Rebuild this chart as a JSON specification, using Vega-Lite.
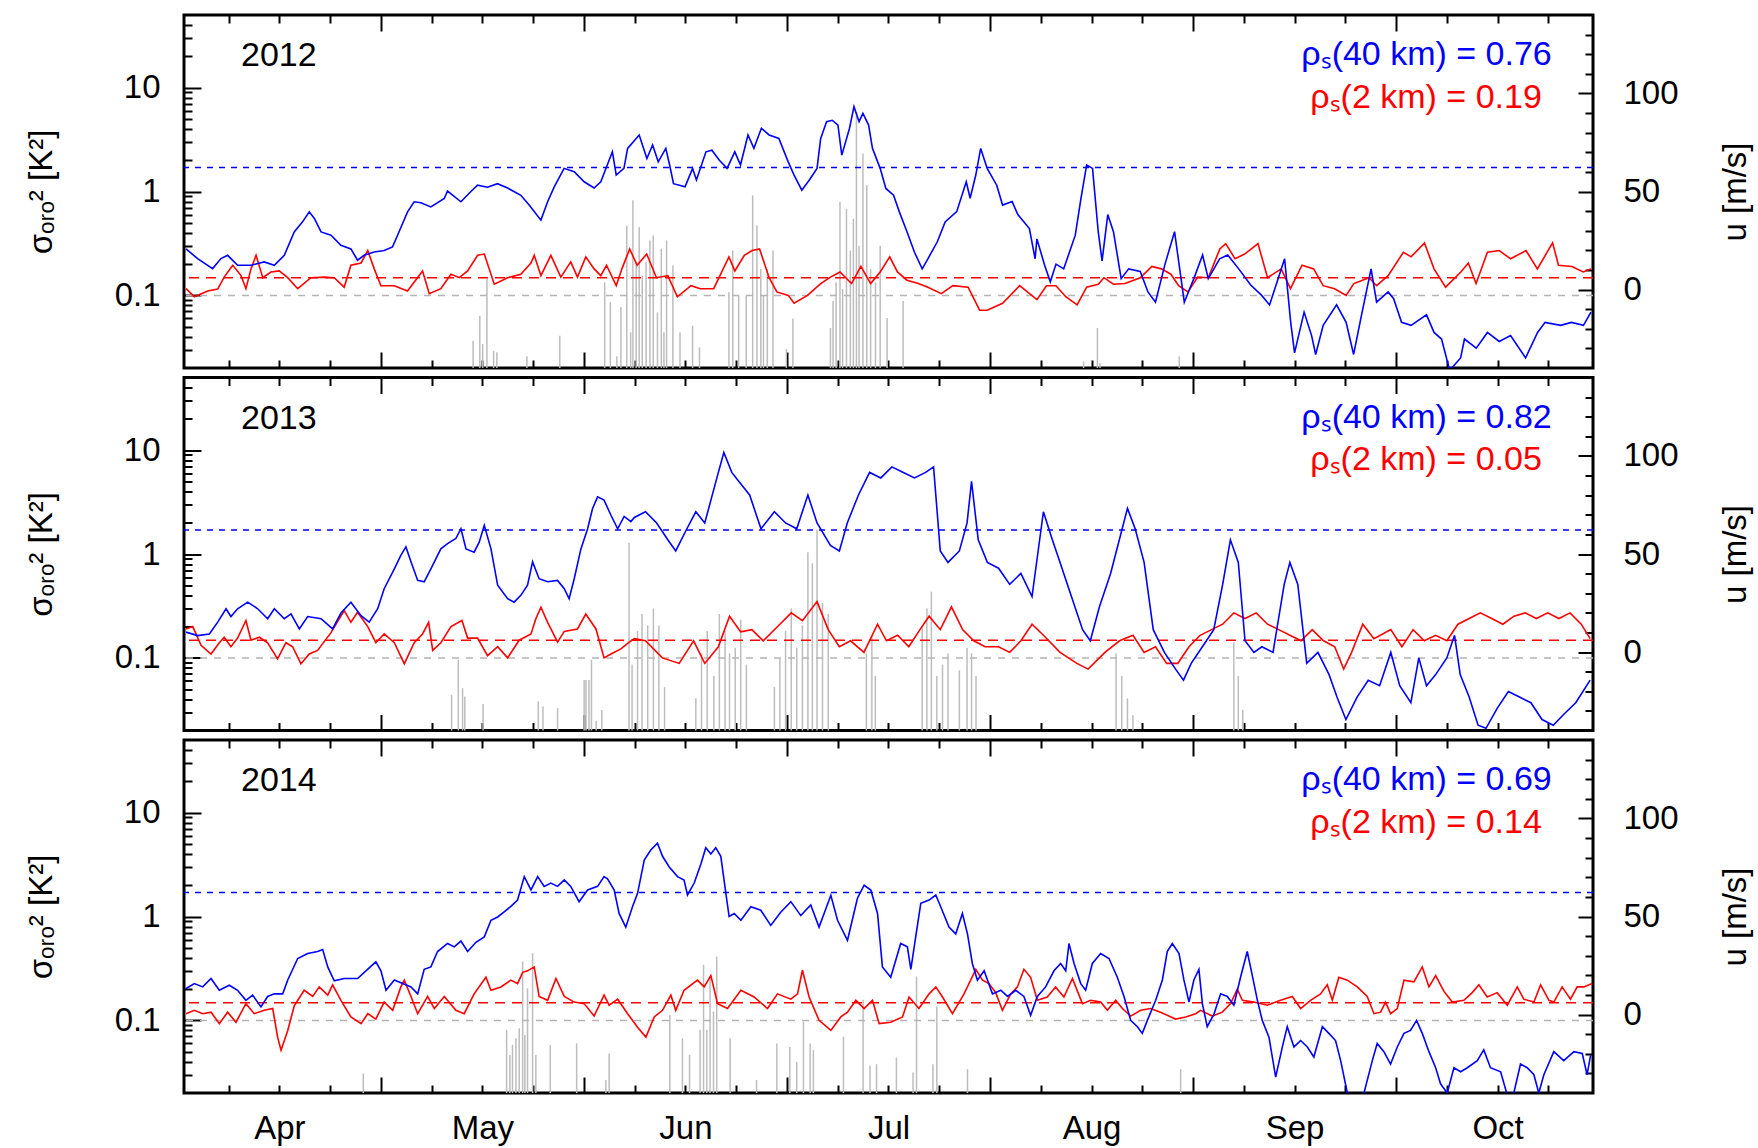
{
  "$schema": "https://vega.github.io/schema/vega-lite/v6.json",
  "background": "white",
  "padding": {"left": 23, "top": 12, "right": 2, "bottom": 0},
  "config": {
    "view": {"stroke": "black", "strokeWidth": 3},
    "font": "Liberation Sans",
    "axis": {"domain": false, "grid": false, "labelFont": "Liberation Sans", "labelFontSize": 33, "labelColor": "black", "titleFont": "Liberation Sans", "titleFontSize": 33, "titleFontWeight": "normal", "titleColor": "black", "tickColor": "black", "tickWidth": 2, "labelOverlap": false, "labelFlush": false, "labelBound": false}
  },
  "datasets": {
    "b2012": [{"t":4.04,"v":0.28},{"t":4.097,"v":0.226},{"t":4.171,"v":0.181},{"t":4.212,"v":0.226},{"t":4.245,"v":0.243},{"t":4.294,"v":0.195},{"t":4.36,"v":0.195},{"t":4.425,"v":0.21},{"t":4.475,"v":0.195},{"t":4.524,"v":0.243},{"t":4.573,"v":0.408},{"t":4.614,"v":0.51},{"t":4.647,"v":0.637},{"t":4.672,"v":0.55},{"t":4.705,"v":0.408},{"t":4.754,"v":0.379},{"t":4.803,"v":0.304},{"t":4.852,"v":0.28},{"t":4.885,"v":0.218},{"t":4.917,"v":0.243},{"t":4.967,"v":0.262},{"t":5.016,"v":0.27},{"t":5.057,"v":0.293},{"t":5.082,"v":0.379},{"t":5.131,"v":0.637},{"t":5.164,"v":0.796},{"t":5.197,"v":0.78},{"t":5.246,"v":0.711},{"t":5.312,"v":0.857},{"t":5.328,"v":1.01},{"t":5.394,"v":0.796},{"t":5.443,"v":1.0},{"t":5.476,"v":1.15},{"t":5.525,"v":1.1},{"t":5.574,"v":1.19},{"t":5.624,"v":1.08},{"t":5.689,"v":0.92},{"t":5.73,"v":0.74},{"t":5.788,"v":0.53},{"t":5.821,"v":0.796},{"t":5.853,"v":1.1},{"t":5.902,"v":1.67},{"t":5.952,"v":1.55},{"t":6.001,"v":1.24},{"t":6.05,"v":1.08},{"t":6.083,"v":1.24},{"t":6.121,"v":1.93},{"t":6.14,"v":2.41},{"t":6.159,"v":1.44},{"t":6.197,"v":1.67},{"t":6.215,"v":2.6},{"t":6.272,"v":3.5},{"t":6.31,"v":2.08},{"t":6.338,"v":2.8},{"t":6.366,"v":1.93},{"t":6.403,"v":2.6},{"t":6.422,"v":1.8},{"t":6.441,"v":1.19},{"t":6.498,"v":1.11},{"t":6.535,"v":1.67},{"t":6.554,"v":1.29},{"t":6.601,"v":2.41},{"t":6.63,"v":2.5},{"t":6.667,"v":2.0},{"t":6.705,"v":1.67},{"t":6.743,"v":2.41},{"t":6.771,"v":1.8},{"t":6.808,"v":3.5},{"t":6.837,"v":2.6},{"t":6.874,"v":4.06},{"t":6.912,"v":3.5},{"t":6.96,"v":3.24},{"t":7.006,"v":1.93},{"t":7.035,"v":1.44},{"t":7.073,"v":1.03},{"t":7.11,"v":1.29},{"t":7.148,"v":1.67},{"t":7.166,"v":3.24},{"t":7.195,"v":4.7},{"t":7.223,"v":4.85},{"t":7.251,"v":4.36},{"t":7.27,"v":2.24},{"t":7.308,"v":4.06},{"t":7.33,"v":6.56},{"t":7.355,"v":4.7},{"t":7.374,"v":5.65},{"t":7.402,"v":4.36},{"t":7.421,"v":2.6},{"t":7.459,"v":1.67},{"t":7.487,"v":1.07},{"t":7.525,"v":0.92},{"t":7.553,"v":0.64},{"t":7.591,"v":0.41},{"t":7.628,"v":0.26},{"t":7.666,"v":0.18},{"t":7.694,"v":0.225},{"t":7.741,"v":0.33},{"t":7.779,"v":0.51},{"t":7.836,"v":0.64},{"t":7.883,"v":1.24},{"t":7.902,"v":0.86},{"t":7.93,"v":1.44},{"t":7.954,"v":2.6},{"t":7.986,"v":1.67},{"t":8.033,"v":1.15},{"t":8.062,"v":0.74},{"t":8.109,"v":0.8},{"t":8.137,"v":0.6},{"t":8.194,"v":0.44},{"t":8.222,"v":0.225},{"t":8.231,"v":0.35},{"t":8.269,"v":0.195},{"t":8.297,"v":0.135},{"t":8.325,"v":0.2},{"t":8.363,"v":0.18},{"t":8.42,"v":0.38},{"t":8.448,"v":0.86},{"t":8.476,"v":1.8},{"t":8.505,"v":1.67},{"t":8.533,"v":0.41},{"t":8.552,"v":0.215},{"t":8.58,"v":0.6},{"t":8.608,"v":0.41},{"t":8.646,"v":0.145},{"t":8.683,"v":0.18},{"t":8.74,"v":0.17},{"t":8.778,"v":0.108},{"t":8.815,"v":0.086},{"t":8.862,"v":0.2},{"t":8.909,"v":0.41},{"t":8.957,"v":0.086},{"t":9.004,"v":0.145},{"t":9.047,"v":0.245},{"t":9.075,"v":0.145},{"t":9.131,"v":0.225},{"t":9.171,"v":0.245},{"t":9.225,"v":0.18},{"t":9.284,"v":0.126},{"t":9.338,"v":0.1},{"t":9.377,"v":0.081},{"t":9.451,"v":0.225},{"t":9.481,"v":0.055},{"t":9.5,"v":0.028},{"t":9.547,"v":0.069},{"t":9.584,"v":0.041},{"t":9.604,"v":0.027},{"t":9.641,"v":0.0515},{"t":9.707,"v":0.081},{"t":9.754,"v":0.055},{"t":9.791,"v":0.027},{"t":9.83,"v":0.065},{"t":9.877,"v":0.18},{"t":9.904,"v":0.086},{"t":9.961,"v":0.108},{"t":9.988,"v":0.093},{"t":10.027,"v":0.055},{"t":10.074,"v":0.0515},{"t":10.15,"v":0.065},{"t":10.187,"v":0.044},{"t":10.224,"v":0.038},{"t":10.264,"v":0.019},{"t":10.318,"v":0.025},{"t":10.337,"v":0.038},{"t":10.395,"v":0.031},{"t":10.45,"v":0.044},{"t":10.508,"v":0.036},{"t":10.564,"v":0.041},{"t":10.638,"v":0.025},{"t":10.697,"v":0.044},{"t":10.734,"v":0.055},{"t":10.81,"v":0.0515},{"t":10.864,"v":0.055},{"t":10.923,"v":0.0515},{"t":10.96,"v":0.069}],
    "r2012": [{"t":4.04,"v":0.116},{"t":4.081,"v":0.097},{"t":4.147,"v":0.11},{"t":4.196,"v":0.115},{"t":4.228,"v":0.15},{"t":4.27,"v":0.195},{"t":4.311,"v":0.155},{"t":4.335,"v":0.116},{"t":4.36,"v":0.18},{"t":4.385,"v":0.243},{"t":4.418,"v":0.148},{"t":4.458,"v":0.168},{"t":4.499,"v":0.172},{"t":4.541,"v":0.148},{"t":4.59,"v":0.116},{"t":4.655,"v":0.148},{"t":4.721,"v":0.15},{"t":4.77,"v":0.148},{"t":4.819,"v":0.12},{"t":4.852,"v":0.195},{"t":4.902,"v":0.205},{"t":4.935,"v":0.27},{"t":4.967,"v":0.18},{"t":5.0,"v":0.124},{"t":5.066,"v":0.124},{"t":5.131,"v":0.11},{"t":5.205,"v":0.172},{"t":5.238,"v":0.104},{"t":5.295,"v":0.116},{"t":5.345,"v":0.16},{"t":5.386,"v":0.148},{"t":5.427,"v":0.172},{"t":5.476,"v":0.243},{"t":5.509,"v":0.25},{"t":5.558,"v":0.128},{"t":5.624,"v":0.148},{"t":5.689,"v":0.16},{"t":5.739,"v":0.205},{"t":5.755,"v":0.243},{"t":5.788,"v":0.155},{"t":5.837,"v":0.243},{"t":5.886,"v":0.15},{"t":5.935,"v":0.21},{"t":5.968,"v":0.15},{"t":6.009,"v":0.235},{"t":6.05,"v":0.18},{"t":6.083,"v":0.155},{"t":6.111,"v":0.195},{"t":6.159,"v":0.124},{"t":6.187,"v":0.18},{"t":6.225,"v":0.28},{"t":6.262,"v":0.195},{"t":6.309,"v":0.25},{"t":6.357,"v":0.148},{"t":6.413,"v":0.155},{"t":6.46,"v":0.097},{"t":6.527,"v":0.124},{"t":6.573,"v":0.116},{"t":6.639,"v":0.116},{"t":6.714,"v":0.235},{"t":6.743,"v":0.172},{"t":6.79,"v":0.243},{"t":6.828,"v":0.27},{"t":6.865,"v":0.28},{"t":6.912,"v":0.148},{"t":6.95,"v":0.108},{"t":7.006,"v":0.1},{"t":7.035,"v":0.084},{"t":7.101,"v":0.1},{"t":7.166,"v":0.13},{"t":7.214,"v":0.15},{"t":7.261,"v":0.168},{"t":7.318,"v":0.13},{"t":7.364,"v":0.19},{"t":7.412,"v":0.13},{"t":7.459,"v":0.168},{"t":7.506,"v":0.235},{"t":7.544,"v":0.168},{"t":7.591,"v":0.14},{"t":7.647,"v":0.13},{"t":7.694,"v":0.12},{"t":7.76,"v":0.104},{"t":7.817,"v":0.124},{"t":7.892,"v":0.12},{"t":7.949,"v":0.072},{"t":7.986,"v":0.072},{"t":8.062,"v":0.084},{"t":8.146,"v":0.124},{"t":8.231,"v":0.091},{"t":8.278,"v":0.124},{"t":8.325,"v":0.124},{"t":8.373,"v":0.097},{"t":8.429,"v":0.081},{"t":8.476,"v":0.12},{"t":8.533,"v":0.128},{"t":8.561,"v":0.148},{"t":8.608,"v":0.128},{"t":8.665,"v":0.13},{"t":8.74,"v":0.148},{"t":8.797,"v":0.19},{"t":8.844,"v":0.18},{"t":8.891,"v":0.16},{"t":8.929,"v":0.124},{"t":8.975,"v":0.108},{"t":9.023,"v":0.15},{"t":9.075,"v":0.148},{"t":9.132,"v":0.28},{"t":9.161,"v":0.315},{"t":9.207,"v":0.225},{"t":9.254,"v":0.25},{"t":9.32,"v":0.315},{"t":9.367,"v":0.148},{"t":9.434,"v":0.18},{"t":9.48,"v":0.116},{"t":9.537,"v":0.195},{"t":9.594,"v":0.18},{"t":9.641,"v":0.124},{"t":9.697,"v":0.116},{"t":9.754,"v":0.1},{"t":9.792,"v":0.13},{"t":9.867,"v":0.148},{"t":9.904,"v":0.124},{"t":9.961,"v":0.155},{"t":10.036,"v":0.26},{"t":10.074,"v":0.235},{"t":10.14,"v":0.32},{"t":10.187,"v":0.18},{"t":10.244,"v":0.12},{"t":10.319,"v":0.168},{"t":10.356,"v":0.205},{"t":10.394,"v":0.13},{"t":10.45,"v":0.26},{"t":10.508,"v":0.27},{"t":10.564,"v":0.225},{"t":10.64,"v":0.27},{"t":10.696,"v":0.18},{"t":10.771,"v":0.32},{"t":10.8,"v":0.195},{"t":10.866,"v":0.19},{"t":10.922,"v":0.168},{"t":10.96,"v":0.18}],
    "u2012": [{"t":5.454,"u":-26.1},{"t":5.487,"u":-13.3},{"t":5.501,"u":-27.8},{"t":5.522,"u":5.4},{"t":5.555,"u":-31.2},{"t":5.571,"u":-32},{"t":5.719,"u":-34},{"t":5.881,"u":-23.5},{"t":6.102,"u":3.7},{"t":6.13,"u":-6.5},{"t":6.162,"u":-34},{"t":6.182,"u":-8.9},{"t":6.211,"u":32.7},{"t":6.23,"u":-21.8},{"t":6.241,"u":45.5},{"t":6.257,"u":14},{"t":6.272,"u":31.9},{"t":6.287,"u":7.2},{"t":6.306,"u":14},{"t":6.325,"u":25},{"t":6.341,"u":27.6},{"t":6.362,"u":-11.6},{"t":6.381,"u":20.8},{"t":6.394,"u":-21.8},{"t":6.407,"u":25},{"t":6.438,"u":12.3},{"t":6.473,"u":-21.8},{"t":6.535,"u":-18.4},{"t":6.569,"u":-29.5},{"t":6.714,"u":-1.4},{"t":6.733,"u":19.9},{"t":6.762,"u":-3.1},{"t":6.799,"u":-3.1},{"t":6.831,"u":48},{"t":6.852,"u":32.7},{"t":6.871,"u":10.5},{"t":6.884,"u":-3.1},{"t":6.903,"u":10.5},{"t":6.931,"u":19.9},{"t":6.997,"u":-30.4},{"t":7.029,"u":-14.7},{"t":7.214,"u":-19.6},{"t":7.227,"u":-5.8},{"t":7.242,"u":3.7},{"t":7.261,"u":44.6},{"t":7.274,"u":0.3},{"t":7.293,"u":41.2},{"t":7.312,"u":19.9},{"t":7.327,"u":36.1},{"t":7.342,"u":90.6},{"t":7.355,"u":22.4},{"t":7.374,"u":69.3},{"t":7.393,"u":53.2},{"t":7.412,"u":10.5},{"t":7.436,"u":3.7},{"t":7.459,"u":22.4},{"t":7.493,"u":-14.5},{"t":7.572,"u":-5.8},{"t":8.461,"u":-36.7},{"t":8.529,"u":-19.6},{"t":8.542,"u":-37.5},{"t":8.932,"u":-34}],
    "b2013": [{"t":4.04,"v":0.177},{"t":4.097,"v":0.164},{"t":4.155,"v":0.17},{"t":4.196,"v":0.221},{"t":4.237,"v":0.297},{"t":4.261,"v":0.25},{"t":4.294,"v":0.297},{"t":4.344,"v":0.344},{"t":4.393,"v":0.297},{"t":4.442,"v":0.238},{"t":4.475,"v":0.297},{"t":4.524,"v":0.238},{"t":4.557,"v":0.265},{"t":4.598,"v":0.19},{"t":4.639,"v":0.25},{"t":4.705,"v":0.238},{"t":4.762,"v":0.19},{"t":4.803,"v":0.27},{"t":4.852,"v":0.344},{"t":4.902,"v":0.255},{"t":4.942,"v":0.221},{"t":4.984,"v":0.297},{"t":5.016,"v":0.463},{"t":5.066,"v":0.72},{"t":5.098,"v":0.97},{"t":5.123,"v":1.17},{"t":5.148,"v":0.84},{"t":5.181,"v":0.557},{"t":5.213,"v":0.54},{"t":5.246,"v":0.72},{"t":5.295,"v":1.12},{"t":5.328,"v":1.26},{"t":5.369,"v":1.41},{"t":5.394,"v":1.75},{"t":5.419,"v":1.12},{"t":5.459,"v":1.04},{"t":5.484,"v":1.3},{"t":5.509,"v":1.89},{"t":5.542,"v":1.12},{"t":5.575,"v":0.5},{"t":5.624,"v":0.371},{"t":5.656,"v":0.344},{"t":5.689,"v":0.4},{"t":5.722,"v":0.5},{"t":5.747,"v":0.84},{"t":5.779,"v":0.578},{"t":5.821,"v":0.54},{"t":5.87,"v":0.557},{"t":5.903,"v":0.463},{"t":5.927,"v":0.371},{"t":5.952,"v":0.578},{"t":5.985,"v":1.12},{"t":6.018,"v":1.75},{"t":6.042,"v":2.73},{"t":6.067,"v":3.55},{"t":6.099,"v":3.3},{"t":6.133,"v":2.36},{"t":6.166,"v":1.75},{"t":6.198,"v":2.3},{"t":6.231,"v":2.05},{"t":6.248,"v":2.25},{"t":6.303,"v":2.55},{"t":6.358,"v":1.99},{"t":6.413,"v":1.37},{"t":6.452,"v":1.07},{"t":6.507,"v":1.75},{"t":6.551,"v":2.55},{"t":6.595,"v":1.99},{"t":6.662,"v":6.1},{"t":6.689,"v":9.5},{"t":6.728,"v":6.1},{"t":6.772,"v":4.75},{"t":6.816,"v":3.7},{"t":6.872,"v":1.75},{"t":6.938,"v":2.55},{"t":6.993,"v":1.99},{"t":7.048,"v":1.75},{"t":7.103,"v":3.7},{"t":7.148,"v":1.99},{"t":7.214,"v":1.21},{"t":7.258,"v":1.07},{"t":7.297,"v":1.99},{"t":7.352,"v":3.7},{"t":7.407,"v":6.1},{"t":7.462,"v":5.4},{"t":7.517,"v":6.9},{"t":7.573,"v":6.1},{"t":7.628,"v":5.4},{"t":7.683,"v":6.1},{"t":7.722,"v":6.9},{"t":7.755,"v":1.07},{"t":7.793,"v":0.83},{"t":7.849,"v":1.07},{"t":7.887,"v":1.99},{"t":7.909,"v":5.0},{"t":7.942,"v":1.37},{"t":7.987,"v":0.83},{"t":8.042,"v":0.73},{"t":8.097,"v":0.51},{"t":8.152,"v":0.65},{"t":8.207,"v":0.39},{"t":8.263,"v":2.55},{"t":8.307,"v":1.37},{"t":8.345,"v":0.83},{"t":8.401,"v":0.39},{"t":8.456,"v":0.187},{"t":8.494,"v":0.146},{"t":8.539,"v":0.31},{"t":8.594,"v":0.65},{"t":8.677,"v":2.75},{"t":8.715,"v":1.75},{"t":8.759,"v":0.83},{"t":8.804,"v":0.187},{"t":8.859,"v":0.113},{"t":8.914,"v":0.078},{"t":8.953,"v":0.061},{"t":8.991,"v":0.0885},{"t":9.046,"v":0.128},{"t":9.102,"v":0.187},{"t":9.146,"v":0.51},{"t":9.184,"v":1.37},{"t":9.223,"v":0.83},{"t":9.256,"v":0.146},{"t":9.3,"v":0.113},{"t":9.339,"v":0.128},{"t":9.394,"v":0.113},{"t":9.449,"v":0.51},{"t":9.477,"v":0.83},{"t":9.516,"v":0.51},{"t":9.56,"v":0.0885},{"t":9.615,"v":0.113},{"t":9.67,"v":0.069},{"t":9.709,"v":0.042},{"t":9.753,"v":0.0255},{"t":9.808,"v":0.042},{"t":9.863,"v":0.061},{"t":9.919,"v":0.054},{"t":9.974,"v":0.113},{"t":10.018,"v":0.054},{"t":10.073,"v":0.037},{"t":10.112,"v":0.1},{"t":10.15,"v":0.054},{"t":10.195,"v":0.069},{"t":10.25,"v":0.1},{"t":10.288,"v":0.165},{"t":10.316,"v":0.069},{"t":10.36,"v":0.042},{"t":10.404,"v":0.0225},{"t":10.443,"v":0.021},{"t":10.498,"v":0.0327},{"t":10.553,"v":0.0475},{"t":10.608,"v":0.042},{"t":10.664,"v":0.037},{"t":10.719,"v":0.0255},{"t":10.774,"v":0.0225},{"t":10.829,"v":0.029},{"t":10.885,"v":0.037},{"t":10.956,"v":0.061}],
    "r2013": [{"t":4.04,"v":0.19},{"t":4.073,"v":0.2},{"t":4.114,"v":0.132},{"t":4.163,"v":0.109},{"t":4.204,"v":0.14},{"t":4.228,"v":0.158},{"t":4.261,"v":0.128},{"t":4.294,"v":0.155},{"t":4.335,"v":0.229},{"t":4.36,"v":0.148},{"t":4.401,"v":0.158},{"t":4.442,"v":0.14},{"t":4.491,"v":0.098},{"t":4.532,"v":0.14},{"t":4.565,"v":0.128},{"t":4.606,"v":0.0875},{"t":4.647,"v":0.109},{"t":4.688,"v":0.118},{"t":4.754,"v":0.175},{"t":4.819,"v":0.286},{"t":4.852,"v":0.22},{"t":4.885,"v":0.275},{"t":4.935,"v":0.2},{"t":4.975,"v":0.14},{"t":5.016,"v":0.17},{"t":5.066,"v":0.14},{"t":5.115,"v":0.0875},{"t":5.164,"v":0.14},{"t":5.205,"v":0.17},{"t":5.235,"v":0.22},{"t":5.255,"v":0.118},{"t":5.295,"v":0.14},{"t":5.345,"v":0.2},{"t":5.399,"v":0.229},{"t":5.427,"v":0.155},{"t":5.476,"v":0.155},{"t":5.525,"v":0.105},{"t":5.575,"v":0.128},{"t":5.624,"v":0.1},{"t":5.681,"v":0.148},{"t":5.739,"v":0.17},{"t":5.763,"v":0.238},{"t":5.788,"v":0.308},{"t":5.821,"v":0.22},{"t":5.87,"v":0.142},{"t":5.903,"v":0.18},{"t":5.968,"v":0.19},{"t":6.009,"v":0.264},{"t":6.059,"v":0.19},{"t":6.099,"v":0.1},{"t":6.133,"v":0.109},{"t":6.182,"v":0.122},{"t":6.223,"v":0.142},{"t":6.248,"v":0.153},{"t":6.303,"v":0.146},{"t":6.386,"v":0.1},{"t":6.469,"v":0.0885},{"t":6.54,"v":0.146},{"t":6.595,"v":0.0885},{"t":6.662,"v":0.128},{"t":6.717,"v":0.252},{"t":6.772,"v":0.178},{"t":6.827,"v":0.187},{"t":6.883,"v":0.146},{"t":6.965,"v":0.211},{"t":7.021,"v":0.271},{"t":7.076,"v":0.228},{"t":7.148,"v":0.348},{"t":7.203,"v":0.187},{"t":7.258,"v":0.128},{"t":7.313,"v":0.146},{"t":7.379,"v":0.113},{"t":7.446,"v":0.211},{"t":7.49,"v":0.146},{"t":7.545,"v":0.165},{"t":7.6,"v":0.128},{"t":7.655,"v":0.187},{"t":7.7,"v":0.252},{"t":7.755,"v":0.187},{"t":7.81,"v":0.31},{"t":7.865,"v":0.187},{"t":7.92,"v":0.146},{"t":7.976,"v":0.128},{"t":8.042,"v":0.128},{"t":8.097,"v":0.113},{"t":8.152,"v":0.146},{"t":8.207,"v":0.211},{"t":8.263,"v":0.165},{"t":8.345,"v":0.113},{"t":8.428,"v":0.0885},{"t":8.483,"v":0.078},{"t":8.566,"v":0.113},{"t":8.638,"v":0.146},{"t":8.704,"v":0.165},{"t":8.759,"v":0.113},{"t":8.815,"v":0.128},{"t":8.87,"v":0.0885},{"t":8.925,"v":0.0885},{"t":8.98,"v":0.128},{"t":9.035,"v":0.165},{"t":9.091,"v":0.187},{"t":9.146,"v":0.211},{"t":9.201,"v":0.271},{"t":9.256,"v":0.239},{"t":9.311,"v":0.271},{"t":9.367,"v":0.211},{"t":9.422,"v":0.187},{"t":9.477,"v":0.165},{"t":9.532,"v":0.146},{"t":9.587,"v":0.187},{"t":9.643,"v":0.146},{"t":9.698,"v":0.128},{"t":9.742,"v":0.078},{"t":9.781,"v":0.113},{"t":9.836,"v":0.211},{"t":9.891,"v":0.153},{"t":9.974,"v":0.187},{"t":10.029,"v":0.128},{"t":10.084,"v":0.187},{"t":10.139,"v":0.146},{"t":10.195,"v":0.165},{"t":10.25,"v":0.146},{"t":10.305,"v":0.211},{"t":10.36,"v":0.239},{"t":10.415,"v":0.271},{"t":10.471,"v":0.239},{"t":10.526,"v":0.211},{"t":10.581,"v":0.252},{"t":10.636,"v":0.271},{"t":10.691,"v":0.239},{"t":10.747,"v":0.271},{"t":10.802,"v":0.239},{"t":10.857,"v":0.271},{"t":10.912,"v":0.211},{"t":10.956,"v":0.153}],
    "u2013": [{"t":5.348,"u":-21.8},{"t":5.381,"u":-3.9},{"t":5.402,"u":-18.4},{"t":5.413,"u":-22.6},{"t":5.503,"u":-26.5},{"t":5.775,"u":-25.2},{"t":5.798,"u":-27.8},{"t":5.87,"u":-28.6},{"t":6.001,"u":-14.2},{"t":6.01,"u":-14.2},{"t":6.025,"u":-14.2},{"t":6.037,"u":-3.9},{"t":6.06,"u":-35},{"t":6.088,"u":-29.6},{"t":6.222,"u":55.7},{"t":6.237,"u":-6.4},{"t":6.264,"u":10.8},{"t":6.286,"u":19.4},{"t":6.314,"u":13.6},{"t":6.342,"u":22.2},{"t":6.369,"u":13.6},{"t":6.397,"u":-17.9},{"t":6.551,"u":-23.6},{"t":6.579,"u":-0.7},{"t":6.607,"u":10.8},{"t":6.64,"u":-12.2},{"t":6.667,"u":19.4},{"t":6.695,"u":10.8},{"t":6.717,"u":-0.7},{"t":6.745,"u":2.2},{"t":6.772,"u":16.5},{"t":6.8,"u":-6.4},{"t":6.938,"u":-17.9},{"t":6.965,"u":-3.6},{"t":6.993,"u":10.8},{"t":7.021,"u":22.2},{"t":7.048,"u":2.2},{"t":7.076,"u":13.6},{"t":7.103,"u":50.9},{"t":7.125,"u":45.2},{"t":7.148,"u":62.4},{"t":7.175,"u":25.1},{"t":7.203,"u":19.4},{"t":7.391,"u":-0.7},{"t":7.418,"u":7.9},{"t":7.435,"u":-12.2},{"t":7.666,"u":13.6},{"t":7.689,"u":22.2},{"t":7.711,"u":30.8},{"t":7.738,"u":-12.2},{"t":7.766,"u":-6.4},{"t":7.793,"u":-0.7},{"t":7.849,"u":-9.3},{"t":7.887,"u":2.2},{"t":7.909,"u":-0.7},{"t":7.931,"u":-12.2},{"t":8.621,"u":-0.7},{"t":8.649,"u":-12.2},{"t":8.677,"u":-23.6},{"t":8.704,"u":-32.2},{"t":9.201,"u":5.0},{"t":9.223,"u":-12.2},{"t":9.245,"u":-29.4}],
    "b2014": [{"t":4.04,"v":0.203},{"t":4.081,"v":0.226},{"t":4.122,"v":0.21},{"t":4.163,"v":0.253},{"t":4.204,"v":0.195},{"t":4.253,"v":0.218},{"t":4.294,"v":0.195},{"t":4.335,"v":0.156},{"t":4.368,"v":0.175},{"t":4.409,"v":0.135},{"t":4.442,"v":0.17},{"t":4.475,"v":0.18},{"t":4.516,"v":0.18},{"t":4.541,"v":0.245},{"t":4.59,"v":0.394},{"t":4.639,"v":0.44},{"t":4.688,"v":0.46},{"t":4.713,"v":0.48},{"t":4.738,"v":0.327},{"t":4.77,"v":0.24},{"t":4.819,"v":0.253},{"t":4.885,"v":0.253},{"t":4.926,"v":0.3},{"t":4.975,"v":0.366},{"t":5.0,"v":0.3},{"t":5.025,"v":0.195},{"t":5.066,"v":0.245},{"t":5.107,"v":0.226},{"t":5.148,"v":0.21},{"t":5.181,"v":0.18},{"t":5.213,"v":0.31},{"t":5.246,"v":0.327},{"t":5.279,"v":0.46},{"t":5.328,"v":0.55},{"t":5.361,"v":0.51},{"t":5.394,"v":0.58},{"t":5.427,"v":0.46},{"t":5.468,"v":0.565},{"t":5.509,"v":0.637},{"t":5.542,"v":0.92},{"t":5.575,"v":0.99},{"t":5.607,"v":1.11},{"t":5.64,"v":1.25},{"t":5.673,"v":1.44},{"t":5.706,"v":2.42},{"t":5.739,"v":1.8},{"t":5.772,"v":2.42},{"t":5.804,"v":1.95},{"t":5.837,"v":2.1},{"t":5.87,"v":1.95},{"t":5.903,"v":2.25},{"t":5.935,"v":1.95},{"t":5.976,"v":1.39},{"t":6.018,"v":1.8},{"t":6.067,"v":1.95},{"t":6.099,"v":2.42},{"t":6.116,"v":2.3},{"t":6.149,"v":1.8},{"t":6.173,"v":1.07},{"t":6.206,"v":0.79},{"t":6.239,"v":1.24},{"t":6.264,"v":1.67},{"t":6.297,"v":3.5},{"t":6.329,"v":4.37},{"t":6.362,"v":5.07},{"t":6.387,"v":3.8},{"t":6.42,"v":3.0},{"t":6.461,"v":2.42},{"t":6.493,"v":2.24},{"t":6.51,"v":1.61},{"t":6.543,"v":2.1},{"t":6.576,"v":3.2},{"t":6.6,"v":4.6},{"t":6.625,"v":4.0},{"t":6.649,"v":4.6},{"t":6.674,"v":3.8},{"t":6.699,"v":1.67},{"t":6.715,"v":1.0},{"t":6.74,"v":1.07},{"t":6.773,"v":0.92},{"t":6.822,"v":1.24},{"t":6.871,"v":1.15},{"t":6.92,"v":0.82},{"t":6.969,"v":1.1},{"t":7.019,"v":1.39},{"t":7.068,"v":1.02},{"t":7.117,"v":1.29},{"t":7.158,"v":0.79},{"t":7.216,"v":1.6},{"t":7.249,"v":0.92},{"t":7.298,"v":0.59},{"t":7.347,"v":1.5},{"t":7.38,"v":2.0},{"t":7.413,"v":1.8},{"t":7.446,"v":1.07},{"t":7.47,"v":0.327},{"t":7.511,"v":0.26},{"t":7.56,"v":0.55},{"t":7.593,"v":0.51},{"t":7.61,"v":0.31},{"t":7.634,"v":0.637},{"t":7.659,"v":1.34},{"t":7.7,"v":1.44},{"t":7.733,"v":1.61},{"t":7.757,"v":1.24},{"t":7.798,"v":0.79},{"t":7.831,"v":0.68},{"t":7.864,"v":1.07},{"t":7.889,"v":0.68},{"t":7.913,"v":0.353},{"t":7.938,"v":0.244},{"t":7.971,"v":0.3},{"t":8.012,"v":0.18},{"t":8.053,"v":0.195},{"t":8.086,"v":0.17},{"t":8.127,"v":0.195},{"t":8.167,"v":0.17},{"t":8.2,"v":0.112},{"t":8.233,"v":0.17},{"t":8.274,"v":0.21},{"t":8.315,"v":0.3},{"t":8.348,"v":0.353},{"t":8.373,"v":0.3},{"t":8.389,"v":0.55},{"t":8.414,"v":0.353},{"t":8.447,"v":0.226},{"t":8.471,"v":0.195},{"t":8.504,"v":0.353},{"t":8.545,"v":0.44},{"t":8.586,"v":0.394},{"t":8.627,"v":0.26},{"t":8.66,"v":0.17},{"t":8.693,"v":0.1},{"t":8.726,"v":0.087},{"t":8.75,"v":0.075},{"t":8.775,"v":0.1},{"t":8.816,"v":0.156},{"t":8.849,"v":0.245},{"t":8.873,"v":0.46},{"t":8.898,"v":0.55},{"t":8.931,"v":0.44},{"t":8.955,"v":0.245},{"t":8.98,"v":0.15},{"t":9.004,"v":0.245},{"t":9.029,"v":0.31},{"t":9.046,"v":0.145},{"t":9.07,"v":0.087},{"t":9.103,"v":0.115},{"t":9.136,"v":0.18},{"t":9.169,"v":0.17},{"t":9.201,"v":0.14},{"t":9.234,"v":0.26},{"t":9.267,"v":0.46},{"t":9.292,"v":0.27},{"t":9.317,"v":0.156},{"t":9.341,"v":0.1},{"t":9.374,"v":0.069},{"t":9.407,"v":0.0285},{"t":9.44,"v":0.0555},{"t":9.464,"v":0.087},{"t":9.497,"v":0.0555},{"t":9.53,"v":0.064},{"t":9.563,"v":0.0555},{"t":9.595,"v":0.0444},{"t":9.637,"v":0.087},{"t":9.669,"v":0.075},{"t":9.702,"v":0.064},{"t":9.727,"v":0.041},{"t":9.76,"v":0.02},{"t":9.792,"v":0.019},{"t":9.842,"v":0.02},{"t":9.883,"v":0.041},{"t":9.907,"v":0.06},{"t":9.94,"v":0.05},{"t":9.973,"v":0.038},{"t":10.006,"v":0.0555},{"t":10.039,"v":0.075},{"t":10.071,"v":0.08},{"t":10.101,"v":0.1},{"t":10.129,"v":0.075},{"t":10.162,"v":0.05},{"t":10.195,"v":0.035},{"t":10.219,"v":0.0245},{"t":10.252,"v":0.02},{"t":10.285,"v":0.035},{"t":10.318,"v":0.032},{"t":10.351,"v":0.035},{"t":10.4,"v":0.041},{"t":10.432,"v":0.052},{"t":10.465,"v":0.035},{"t":10.515,"v":0.032},{"t":10.548,"v":0.019},{"t":10.58,"v":0.02},{"t":10.613,"v":0.038},{"t":10.646,"v":0.035},{"t":10.679,"v":0.03},{"t":10.703,"v":0.02},{"t":10.728,"v":0.03},{"t":10.777,"v":0.05},{"t":10.826,"v":0.041},{"t":10.876,"v":0.05},{"t":10.917,"v":0.048},{"t":10.941,"v":0.03},{"t":10.958,"v":0.046}],
    "r2014": [{"t":4.04,"v":0.116},{"t":4.081,"v":0.125},{"t":4.122,"v":0.116},{"t":4.163,"v":0.12},{"t":4.204,"v":0.093},{"t":4.245,"v":0.12},{"t":4.286,"v":0.096},{"t":4.335,"v":0.145},{"t":4.376,"v":0.116},{"t":4.425,"v":0.125},{"t":4.467,"v":0.13},{"t":4.491,"v":0.069},{"t":4.508,"v":0.0515},{"t":4.541,"v":0.08},{"t":4.573,"v":0.138},{"t":4.622,"v":0.195},{"t":4.664,"v":0.17},{"t":4.696,"v":0.21},{"t":4.738,"v":0.175},{"t":4.762,"v":0.22},{"t":4.803,"v":0.156},{"t":4.852,"v":0.108},{"t":4.902,"v":0.093},{"t":4.935,"v":0.116},{"t":4.975,"v":0.103},{"t":5.016,"v":0.15},{"t":5.058,"v":0.125},{"t":5.098,"v":0.21},{"t":5.115,"v":0.244},{"t":5.148,"v":0.17},{"t":5.181,"v":0.116},{"t":5.23,"v":0.17},{"t":5.263,"v":0.13},{"t":5.312,"v":0.17},{"t":5.369,"v":0.125},{"t":5.41,"v":0.116},{"t":5.459,"v":0.18},{"t":5.517,"v":0.26},{"t":5.542,"v":0.195},{"t":5.591,"v":0.21},{"t":5.64,"v":0.244},{"t":5.673,"v":0.226},{"t":5.698,"v":0.29},{"t":5.722,"v":0.3},{"t":5.755,"v":0.327},{"t":5.779,"v":0.17},{"t":5.821,"v":0.156},{"t":5.862,"v":0.253},{"t":5.903,"v":0.17},{"t":5.952,"v":0.15},{"t":6.001,"v":0.145},{"t":6.05,"v":0.11},{"t":6.099,"v":0.175},{"t":6.124,"v":0.14},{"t":6.166,"v":0.16},{"t":6.215,"v":0.116},{"t":6.264,"v":0.086},{"t":6.305,"v":0.069},{"t":6.346,"v":0.108},{"t":6.387,"v":0.125},{"t":6.428,"v":0.175},{"t":6.452,"v":0.125},{"t":6.493,"v":0.195},{"t":6.559,"v":0.244},{"t":6.592,"v":0.21},{"t":6.625,"v":0.27},{"t":6.658,"v":0.145},{"t":6.707,"v":0.13},{"t":6.773,"v":0.195},{"t":6.838,"v":0.168},{"t":6.904,"v":0.13},{"t":6.953,"v":0.18},{"t":7.019,"v":0.16},{"t":7.052,"v":0.18},{"t":7.076,"v":0.304},{"t":7.109,"v":0.168},{"t":7.158,"v":0.1},{"t":7.216,"v":0.08},{"t":7.265,"v":0.108},{"t":7.298,"v":0.12},{"t":7.339,"v":0.156},{"t":7.38,"v":0.13},{"t":7.421,"v":0.156},{"t":7.454,"v":0.093},{"t":7.511,"v":0.096},{"t":7.569,"v":0.108},{"t":7.601,"v":0.168},{"t":7.65,"v":0.13},{"t":7.7,"v":0.18},{"t":7.733,"v":0.21},{"t":7.766,"v":0.168},{"t":7.815,"v":0.116},{"t":7.872,"v":0.18},{"t":7.93,"v":0.31},{"t":7.963,"v":0.244},{"t":7.995,"v":0.226},{"t":8.028,"v":0.185},{"t":8.061,"v":0.125},{"t":8.102,"v":0.18},{"t":8.135,"v":0.21},{"t":8.167,"v":0.31},{"t":8.2,"v":0.26},{"t":8.233,"v":0.156},{"t":8.282,"v":0.168},{"t":8.323,"v":0.21},{"t":8.364,"v":0.168},{"t":8.406,"v":0.253},{"t":8.455,"v":0.145},{"t":8.496,"v":0.156},{"t":8.545,"v":0.15},{"t":8.578,"v":0.125},{"t":8.619,"v":0.156},{"t":8.652,"v":0.13},{"t":8.693,"v":0.11},{"t":8.742,"v":0.125},{"t":8.791,"v":0.13},{"t":8.84,"v":0.12},{"t":8.914,"v":0.103},{"t":8.964,"v":0.108},{"t":9.013,"v":0.116},{"t":9.037,"v":0.125},{"t":9.095,"v":0.11},{"t":9.144,"v":0.12},{"t":9.185,"v":0.145},{"t":9.218,"v":0.2},{"t":9.243,"v":0.156},{"t":9.3,"v":0.15},{"t":9.366,"v":0.14},{"t":9.431,"v":0.156},{"t":9.489,"v":0.17},{"t":9.53,"v":0.13},{"t":9.579,"v":0.156},{"t":9.628,"v":0.18},{"t":9.661,"v":0.22},{"t":9.686,"v":0.156},{"t":9.718,"v":0.26},{"t":9.76,"v":0.244},{"t":9.809,"v":0.21},{"t":9.858,"v":0.17},{"t":9.891,"v":0.116},{"t":9.924,"v":0.12},{"t":9.948,"v":0.15},{"t":9.973,"v":0.116},{"t":10.006,"v":0.13},{"t":10.039,"v":0.244},{"t":10.088,"v":0.235},{"t":10.129,"v":0.327},{"t":10.162,"v":0.21},{"t":10.195,"v":0.27},{"t":10.236,"v":0.19},{"t":10.277,"v":0.15},{"t":10.334,"v":0.156},{"t":10.375,"v":0.185},{"t":10.408,"v":0.22},{"t":10.449,"v":0.168},{"t":10.498,"v":0.185},{"t":10.548,"v":0.14},{"t":10.597,"v":0.21},{"t":10.629,"v":0.16},{"t":10.679,"v":0.15},{"t":10.712,"v":0.22},{"t":10.753,"v":0.156},{"t":10.777,"v":0.15},{"t":10.818,"v":0.21},{"t":10.859,"v":0.16},{"t":10.892,"v":0.21},{"t":10.925,"v":0.21},{"t":10.966,"v":0.226}],
    "u2014": [{"t":4.913,"u":-30},{"t":5.619,"u":-7.8},{"t":5.635,"u":-20.6},{"t":5.648,"u":-15.5},{"t":5.665,"u":-12.1},{"t":5.681,"u":-7.0},{"t":5.698,"u":27.1},{"t":5.709,"u":-10.4},{"t":5.722,"u":13.4},{"t":5.747,"u":31.3},{"t":5.763,"u":-20.6},{"t":5.834,"u":-15.5},{"t":5.964,"u":-14.7},{"t":6.108,"u":-33.4},{"t":6.124,"u":-19.8},{"t":6.423,"u":-0.2},{"t":6.485,"u":-12.1},{"t":6.52,"u":-20.6},{"t":6.572,"u":-7.8},{"t":6.589,"u":25.4},{"t":6.605,"u":-7.8},{"t":6.621,"u":19.4},{"t":6.638,"u":1.5},{"t":6.654,"u":29.6},{"t":6.72,"u":-12.1},{"t":6.85,"u":-33.4},{"t":6.95,"u":-14.7},{"t":7.014,"u":-16.5},{"t":7.048,"u":-24.2},{"t":7.081,"u":-3.6},{"t":7.114,"u":-14.7},{"t":7.13,"u":-18},{"t":7.278,"u":-11.3},{"t":7.375,"u":7.5},{"t":7.409,"u":-26},{"t":7.441,"u":-25.3},{"t":7.539,"u":-21.9},{"t":7.621,"u":-29.6},{"t":7.638,"u":19.4},{"t":7.719,"u":-25.3},{"t":7.738,"u":4.1},{"t":7.889,"u":-27.8},{"t":8.939,"u":-27.8}]
  },
  "spacing": 3.5,
  "vconcat": [
    {
      "width": 1409, "height": 353,
      "layer": [
        {
          "data": {"name": "u2012"},
          "mark": {"type": "rule", "color": "#bdbdbd", "strokeWidth": 1.5},
          "encoding": {
            "x": {"field": "t", "type": "quantitative", "scale": {"domain": [4.03, 10.97], "nice": false, "zero": false},
                  "axis": {"orient": "bottom", "title": null, "labels": false, "values": [4.25,4.5,4.75,5,5.25,5.5,5.75,6,6.25,6.5,6.75,7,7.25,7.5,7.75,8,8.25,8.5,8.75,9,9.25,9.5,9.75,10,10.25,10.5,10.75],
                           "tickSize": {"condition": {"test": "datum.value % 1 == 0", "value": -16}, "value": -8}}},
            "y": {"field": "u", "type": "quantitative", "scale": {"domain": [-40, 140], "nice": false, "zero": false},
                  "axis": {"orient": "right", "title": "u [m/s]", "titleAngle": -90, "titleBaseline": "alphabetic", "titlePadding": 67, "labelPadding": 45, "values": [-30,-20,-10,0,10,20,30,40,50,60,70,80,90,100,110,120,130],
                           "labelExpr": "datum.value % 50 == 0 ? datum.label : ''",
                           "labelFontSize": {"condition": {"test": "datum.value % 50 == 0", "value": 33}, "value": 0},
                           "tickSize": {"condition": {"test": "datum.value % 50 == 0", "value": -15}, "value": -8}}},
            "y2": {"datum": -40}
          }
        },
        {
          "layer": [
            {"data": {"values": [{}]}, "mark": {"type": "rule", "color": "#b4b4b4", "strokeWidth": 1.5, "strokeDash": [7, 7]}, "encoding": {"y": {"datum": 0.1}}},
            {"data": {"values": [{}]}, "mark": {"type": "rule", "color": "#ff0000", "strokeWidth": 1.5, "strokeDash": [10, 7]}, "encoding": {"y": {"datum": 0.148}}},
            {"data": {"values": [{}]}, "mark": {"type": "rule", "color": "#0000ff", "strokeWidth": 1.5, "strokeDash": [6, 6]}, "encoding": {"y": {"datum": 1.7}}},
            {"data": {"name": "r2012"}, "mark": {"type": "line", "color": "#ff0000", "strokeWidth": 1.6, "clip": true},
             "encoding": {"x": {"field": "t", "type": "quantitative"}, "y": {"field": "v", "type": "quantitative"}}},
            {"data": {"name": "b2012"}, "mark": {"type": "line", "color": "#0000ff", "strokeWidth": 1.6, "clip": true},
             "encoding": {
               "x": {"field": "t", "type": "quantitative", "scale": {"domain": [4.03, 10.97], "nice": false, "zero": false},
                     "axis": {"orient": "top", "title": null, "labels": false, "values": [4.25,4.5,4.75,5,5.25,5.5,5.75,6,6.25,6.5,6.75,7,7.25,7.5,7.75,8,8.25,8.5,8.75,9,9.25,9.5,9.75,10,10.25,10.5,10.75],
                              "tickSize": {"condition": {"test": "datum.value % 1 == 0", "value": -16}, "value": -8}}},
               "y": {"field": "v", "type": "quantitative", "scale": {"type": "log", "domain": [0.02, 50], "nice": false},
                     "axis": {"orient": "left", "title": "σₒᵣₒ² [K²]", "titleBaseline": "alphabetic", "titlePadding": 63, "labelPadding": 41, "values": [0.03,0.04,0.05,0.06,0.07,0.08,0.09,0.1,0.2,0.3,0.4,0.5,0.6,0.7,0.8,0.9,1,2,3,4,5,6,7,8,9,10,20,30,40],
                              "labelExpr": "datum.value == 10 ? '10' : datum.value == 1 ? '1' : datum.value == 0.1 ? '0.1' : ''",
                              "labelFontSize": {"condition": {"test": "datum.value == 0.1 || datum.value == 1 || datum.value == 10", "value": 33}, "value": 0},
                              "tickSize": {"condition": {"test": "datum.value == 0.1 || datum.value == 1 || datum.value == 10", "value": -17}, "value": -8}}}
             }},
            {"data": {"values": [{}]}, "mark": {"type": "text", "text": "2012", "fontSize": 34, "align": "left", "baseline": "alphabetic", "color": "black"},
             "encoding": {"x": {"datum": 4.311}, "y": {"datum": 16}}},
            {"data": {"values": [{}]}, "mark": {"type": "text", "text": "ρₛ(40 km) = 0.76", "fontSize": 34, "align": "right", "baseline": "alphabetic", "color": "#0000ff"},
             "encoding": {"x": {"datum": 10.767}, "y": {"datum": 16.5}}},
            {"data": {"values": [{}]}, "mark": {"type": "text", "text": "ρₛ(2 km) = 0.19", "fontSize": 34, "align": "right", "baseline": "alphabetic", "color": "#ff0000"},
             "encoding": {"x": {"datum": 10.718}, "y": {"datum": 6.38}}}
          ]
        }
      ],
      "resolve": {"scale": {"y": "independent"}, "axis": {"x": "independent", "y": "independent"}}
    },
    {
      "width": 1409, "height": 353,
      "layer": [
        {
          "data": {"name": "u2013"},
          "mark": {"type": "rule", "color": "#bdbdbd", "strokeWidth": 1.5},
          "encoding": {
            "x": {"field": "t", "type": "quantitative", "scale": {"domain": [4.03, 10.97], "nice": false, "zero": false},
                  "axis": {"orient": "bottom", "title": null, "labels": false, "values": [4.25,4.5,4.75,5,5.25,5.5,5.75,6,6.25,6.5,6.75,7,7.25,7.5,7.75,8,8.25,8.5,8.75,9,9.25,9.5,9.75,10,10.25,10.5,10.75],
                           "tickSize": {"condition": {"test": "datum.value % 1 == 0", "value": -16}, "value": -8}}},
            "y": {"field": "u", "type": "quantitative", "scale": {"domain": [-40, 140], "nice": false, "zero": false},
                  "axis": {"orient": "right", "title": "u [m/s]", "titleAngle": -90, "titleBaseline": "alphabetic", "titlePadding": 67, "labelPadding": 45, "values": [-30,-20,-10,0,10,20,30,40,50,60,70,80,90,100,110,120,130],
                           "labelExpr": "datum.value % 50 == 0 ? datum.label : ''",
                           "labelFontSize": {"condition": {"test": "datum.value % 50 == 0", "value": 33}, "value": 0},
                           "tickSize": {"condition": {"test": "datum.value % 50 == 0", "value": -15}, "value": -8}}},
            "y2": {"datum": -40}
          }
        },
        {
          "layer": [
            {"data": {"values": [{}]}, "mark": {"type": "rule", "color": "#b4b4b4", "strokeWidth": 1.5, "strokeDash": [7, 7]}, "encoding": {"y": {"datum": 0.1}}},
            {"data": {"values": [{}]}, "mark": {"type": "rule", "color": "#ff0000", "strokeWidth": 1.5, "strokeDash": [10, 7]}, "encoding": {"y": {"datum": 0.148}}},
            {"data": {"values": [{}]}, "mark": {"type": "rule", "color": "#0000ff", "strokeWidth": 1.5, "strokeDash": [6, 6]}, "encoding": {"y": {"datum": 1.7}}},
            {"data": {"name": "r2013"}, "mark": {"type": "line", "color": "#ff0000", "strokeWidth": 1.6, "clip": true},
             "encoding": {"x": {"field": "t", "type": "quantitative"}, "y": {"field": "v", "type": "quantitative"}}},
            {"data": {"name": "b2013"}, "mark": {"type": "line", "color": "#0000ff", "strokeWidth": 1.6, "clip": true},
             "encoding": {
               "x": {"field": "t", "type": "quantitative", "scale": {"domain": [4.03, 10.97], "nice": false, "zero": false},
                     "axis": {"orient": "top", "title": null, "labels": false, "values": [4.25,4.5,4.75,5,5.25,5.5,5.75,6,6.25,6.5,6.75,7,7.25,7.5,7.75,8,8.25,8.5,8.75,9,9.25,9.5,9.75,10,10.25,10.5,10.75],
                              "tickSize": {"condition": {"test": "datum.value % 1 == 0", "value": -16}, "value": -8}}},
               "y": {"field": "v", "type": "quantitative", "scale": {"type": "log", "domain": [0.02, 50], "nice": false},
                     "axis": {"orient": "left", "title": "σₒᵣₒ² [K²]", "titleBaseline": "alphabetic", "titlePadding": 63, "labelPadding": 41, "values": [0.03,0.04,0.05,0.06,0.07,0.08,0.09,0.1,0.2,0.3,0.4,0.5,0.6,0.7,0.8,0.9,1,2,3,4,5,6,7,8,9,10,20,30,40],
                              "labelExpr": "datum.value == 10 ? '10' : datum.value == 1 ? '1' : datum.value == 0.1 ? '0.1' : ''",
                              "labelFontSize": {"condition": {"test": "datum.value == 0.1 || datum.value == 1 || datum.value == 10", "value": 33}, "value": 0},
                              "tickSize": {"condition": {"test": "datum.value == 0.1 || datum.value == 1 || datum.value == 10", "value": -17}, "value": -8}}}
             }},
            {"data": {"values": [{}]}, "mark": {"type": "text", "text": "2013", "fontSize": 34, "align": "left", "baseline": "alphabetic", "color": "black"},
             "encoding": {"x": {"datum": 4.311}, "y": {"datum": 16}}},
            {"data": {"values": [{}]}, "mark": {"type": "text", "text": "ρₛ(40 km) = 0.82", "fontSize": 34, "align": "right", "baseline": "alphabetic", "color": "#0000ff"},
             "encoding": {"x": {"datum": 10.767}, "y": {"datum": 16.5}}},
            {"data": {"values": [{}]}, "mark": {"type": "text", "text": "ρₛ(2 km) = 0.05", "fontSize": 34, "align": "right", "baseline": "alphabetic", "color": "#ff0000"},
             "encoding": {"x": {"datum": 10.718}, "y": {"datum": 6.38}}}
          ]
        }
      ],
      "resolve": {"scale": {"y": "independent"}, "axis": {"x": "independent", "y": "independent"}}
    },
    {
      "width": 1409, "height": 353,
      "layer": [
        {
          "data": {"name": "u2014"},
          "mark": {"type": "rule", "color": "#bdbdbd", "strokeWidth": 1.5},
          "encoding": {
            "x": {"field": "t", "type": "quantitative", "scale": {"domain": [4.03, 10.97], "nice": false, "zero": false},
                  "axis": {"orient": "bottom", "title": null, "labels": true, "labelPadding": 27, "values": [4.25,4.5,4.75,5,5.25,5.5,5.75,6,6.25,6.5,6.75,7,7.25,7.5,7.75,8,8.25,8.5,8.75,9,9.25,9.5,9.75,10,10.25,10.5,10.75],
                           "labelExpr": "datum.value % 1 == 0.5 ? ['Jan','Feb','Mar','Apr','May','Jun','Jul','Aug','Sep','Oct','Nov','Dec'][floor(datum.value) - 1] : ''",
                           "labelFontSize": {"condition": {"test": "datum.value % 1 == 0.5", "value": 33}, "value": 0},
                           "tickSize": {"condition": {"test": "datum.value % 1 == 0", "value": -16}, "value": -8}}},
            "y": {"field": "u", "type": "quantitative", "scale": {"domain": [-40, 140], "nice": false, "zero": false},
                  "axis": {"orient": "right", "title": "u [m/s]", "titleAngle": -90, "titleBaseline": "alphabetic", "titlePadding": 67, "labelPadding": 45, "values": [-30,-20,-10,0,10,20,30,40,50,60,70,80,90,100,110,120,130],
                           "labelExpr": "datum.value % 50 == 0 ? datum.label : ''",
                           "labelFontSize": {"condition": {"test": "datum.value % 50 == 0", "value": 33}, "value": 0},
                           "tickSize": {"condition": {"test": "datum.value % 50 == 0", "value": -15}, "value": -8}}},
            "y2": {"datum": -40}
          }
        },
        {
          "layer": [
            {"data": {"values": [{}]}, "mark": {"type": "rule", "color": "#b4b4b4", "strokeWidth": 1.5, "strokeDash": [7, 7]}, "encoding": {"y": {"datum": 0.1}}},
            {"data": {"values": [{}]}, "mark": {"type": "rule", "color": "#ff0000", "strokeWidth": 1.5, "strokeDash": [10, 7]}, "encoding": {"y": {"datum": 0.148}}},
            {"data": {"values": [{}]}, "mark": {"type": "rule", "color": "#0000ff", "strokeWidth": 1.5, "strokeDash": [6, 6]}, "encoding": {"y": {"datum": 1.7}}},
            {"data": {"name": "r2014"}, "mark": {"type": "line", "color": "#ff0000", "strokeWidth": 1.6, "clip": true},
             "encoding": {"x": {"field": "t", "type": "quantitative"}, "y": {"field": "v", "type": "quantitative"}}},
            {"data": {"name": "b2014"}, "mark": {"type": "line", "color": "#0000ff", "strokeWidth": 1.6, "clip": true},
             "encoding": {
               "x": {"field": "t", "type": "quantitative", "scale": {"domain": [4.03, 10.97], "nice": false, "zero": false},
                     "axis": {"orient": "top", "title": null, "labels": false, "values": [4.25,4.5,4.75,5,5.25,5.5,5.75,6,6.25,6.5,6.75,7,7.25,7.5,7.75,8,8.25,8.5,8.75,9,9.25,9.5,9.75,10,10.25,10.5,10.75],
                              "tickSize": {"condition": {"test": "datum.value % 1 == 0", "value": -16}, "value": -8}}},
               "y": {"field": "v", "type": "quantitative", "scale": {"type": "log", "domain": [0.02, 50], "nice": false},
                     "axis": {"orient": "left", "title": "σₒᵣₒ² [K²]", "titleBaseline": "alphabetic", "titlePadding": 63, "labelPadding": 41, "values": [0.03,0.04,0.05,0.06,0.07,0.08,0.09,0.1,0.2,0.3,0.4,0.5,0.6,0.7,0.8,0.9,1,2,3,4,5,6,7,8,9,10,20,30,40],
                              "labelExpr": "datum.value == 10 ? '10' : datum.value == 1 ? '1' : datum.value == 0.1 ? '0.1' : ''",
                              "labelFontSize": {"condition": {"test": "datum.value == 0.1 || datum.value == 1 || datum.value == 10", "value": 33}, "value": 0},
                              "tickSize": {"condition": {"test": "datum.value == 0.1 || datum.value == 1 || datum.value == 10", "value": -17}, "value": -8}}}
             }},
            {"data": {"values": [{}]}, "mark": {"type": "text", "text": "2014", "fontSize": 34, "align": "left", "baseline": "alphabetic", "color": "black"},
             "encoding": {"x": {"datum": 4.311}, "y": {"datum": 16}}},
            {"data": {"values": [{}]}, "mark": {"type": "text", "text": "ρₛ(40 km) = 0.69", "fontSize": 34, "align": "right", "baseline": "alphabetic", "color": "#0000ff"},
             "encoding": {"x": {"datum": 10.767}, "y": {"datum": 16.5}}},
            {"data": {"values": [{}]}, "mark": {"type": "text", "text": "ρₛ(2 km) = 0.14", "fontSize": 34, "align": "right", "baseline": "alphabetic", "color": "#ff0000"},
             "encoding": {"x": {"datum": 10.718}, "y": {"datum": 6.38}}}
          ]
        }
      ],
      "resolve": {"scale": {"y": "independent"}, "axis": {"x": "independent", "y": "independent"}}
    }
  ]
}
